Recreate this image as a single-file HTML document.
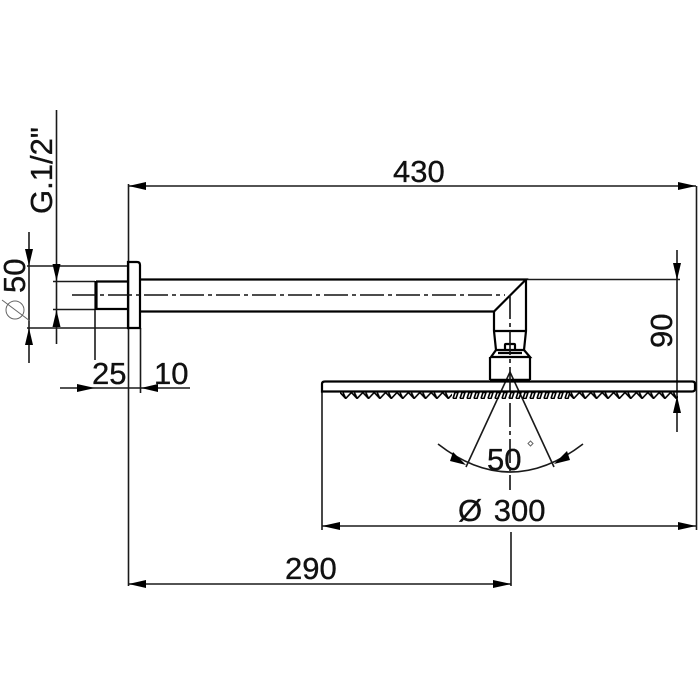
<!DOCTYPE html>
<html><head><meta charset="utf-8"><style>
html,body{margin:0;padding:0;background:#fff}
svg{display:block}
text{font-family:"Liberation Sans",sans-serif;font-size:31px;fill:#111;stroke:#111;stroke-width:.35px}
</style></head><body>
<svg width="700" height="700" viewBox="0 0 700 700" xmlns="http://www.w3.org/2000/svg">
<defs>
<pattern id="z1" x="340" y="392" width="11.4" height="7" patternUnits="userSpaceOnUse"><path d="M0 .5L5.700 6.500L11.400 .5M3 .5L5.700 6.500" fill="none" stroke="#000" stroke-width="1.600"/></pattern>
<pattern id="z2" x="452" y="392" width="7" height="7" patternUnits="userSpaceOnUse"><path d="M1 6.500L3 .5L6 .5L4 6.500L1 6.500" fill="none" stroke="#000" stroke-width="1.600"/></pattern>
</defs>
<!-- thin dimension lines -->
<g fill="none" stroke="#1a1a1a" stroke-width="1.600">
<path d="M56.500 110V344M29 232V363M27 266H128M27 328H128M53 281.500H95M53 309.500H95"/>
<path d="M128.500 184V586M128 186H696M696.500 186V530M128 584H511M511 532V586"/>
<path d="M95 309V360M140.500 328V393M60 388H190"/>
<path d="M322 392V530M322 526H696M526 279.500H680M677 250V432"/>
<path d="M497 400L466 467M523 400L554 467M438 444Q510 500 583 444"/>
<path d="M497 400L510 372L523 400"/>
</g>
<!-- thick object lines -->
<g fill="none" stroke="#000" stroke-width="2.200">
<path d="M128 262H137Q140 262 140 265V328H128Z"/>
<path d="M96 281.500H128M96 309H128"/>
<path d="M96 281V310" stroke-width="3.200"/>
<path d="M140 279.500H526L494 311.500H140"/>
<path d="M526 279V331L524 350H496L494 331V311.500M494 331H526"/>
<path d="M505 350V345Q505 344 506 344H514Q515 344 515 345V350"/>
<path d="M496 350L491 357H530L524 350M498 353H522"/>
<path d="M490 357V380M530 357V380"/>
<path d="M490 380.500H530" stroke-width="3.500"/>
<path d="M325 381.500H692Q695 381.500 695 384V389Q695 391.500 692 391.500H322V384Q322 381.500 325 381.500Z"/>
</g>
<!-- teeth -->
<rect x="340" y="392" width="112" height="7" fill="url(#z1)"/>
<rect x="452" y="392" width="118" height="7" fill="url(#z2)"/>
<rect x="570" y="392" width="108" height="7" fill="url(#z1)"/>
<!-- centre lines -->
<g fill="none" stroke="#111" stroke-width="1.600">
<path d="M72 295H505" stroke-dasharray="24 4 4 4"/>
<path d="M510 295V490" stroke-dasharray="24 4 4 4"/>
</g>
<!-- arrows -->
<g fill="#000">
<path d="M128.500 186L146 182V190Z"/>
<path d="M696 186L678 182V190Z"/>
<path d="M128.500 584L146 580V588Z"/>
<path d="M511 584L493 580V588Z"/>
<path d="M322 526L340 522V530Z"/>
<path d="M696 526L678 522V530Z"/>
<path d="M29 266L25 249H33Z"/>
<path d="M29 328L25 345H33Z"/>
<path d="M56.500 281L52.500 264H60.500Z"/>
<path d="M56.500 310L52.500 327H60.500Z"/>
<path d="M95 388L77 384V392Z"/>
<path d="M141 388L158 384V392Z"/>
<path d="M677 280L673 263H681Z"/>
<path d="M677 396L673 413H681Z"/>
<path d="M466 465L450 461L453 452Z"/>
<path d="M554 464L570 460L567 451Z"/>
</g>
<!-- labels -->
<text x="393" y="182">430</text>
<text x="285" y="579">290</text>
<text x="458" y="521" word-spacing="3">Ø 300</text>
<text x="487" y="470">50</text>
<text x="92" y="384">25</text>
<text x="154" y="384">10</text>
<text transform="translate(52 214) rotate(-90)">G.1/2"</text>
<text transform="translate(25 293) rotate(-90)">50</text>
<text transform="translate(672 348) rotate(-90)">90</text>
<!-- diameter symbol and small mark -->
<g fill="none" stroke="#666" stroke-width="1">
<circle cx="15" cy="310" r="9"/>
<path d="M2 300L30 321"/>
<path d="M530.500 441L533 443.500L530.500 446L528 443.500Z"/>
</g>
</svg>
</body></html>
